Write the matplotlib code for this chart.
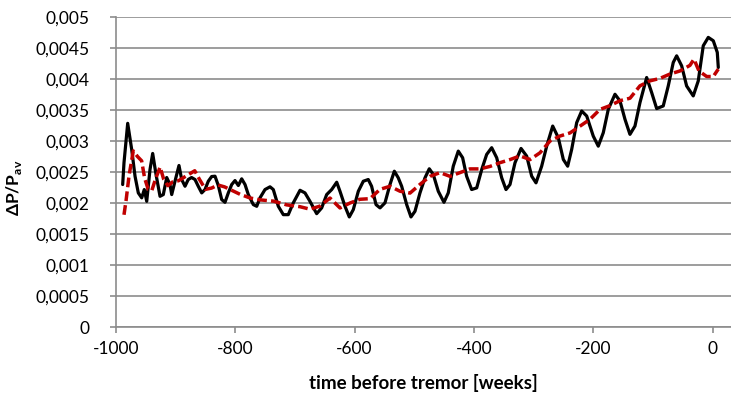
import matplotlib
matplotlib.use("Agg")
import matplotlib.pyplot as plt
from matplotlib.ticker import FixedLocator, FuncFormatter

plt.rcParams["font.family"] = ["Lato", "DejaVu Sans"]

# black curve (weeks, dP/Pav)
obs_t = [-988.8, -986.6, -980.4, -973.7, -968.1, -962.6, -956.9, -952.6, -948.5, -943.0,
         -938.5, -932.9, -926.2, -920.7, -915.0, -909.5, -906.6, -901.1, -894.4, -889.9,
         -884.3, -878.9, -873.3, -867.6, -862.1, -856.3, -850.8, -845.3, -839.6, -834.0,
         -828.5, -822.8, -817.3, -811.7, -806.0, -800.5, -794.9, -789.3, -783.7, -778.2,
         -769.8, -764.1, -758.6, -750.2, -741.8, -736.3, -727.9, -719.5, -711.2, -702.8,
         -691.5, -683.2, -674.8, -663.6, -655.2, -646.8, -638.4, -630.0, -624.5, -616.1,
         -608.9, -602.2, -593.8, -585.4, -577.1, -571.5, -564.1, -557.4, -549.1, -540.7,
         -533.4, -526.8, -521.1, -512.7, -505.5, -498.8, -490.4, -482.0, -474.8, -468.1,
         -459.7, -450.2, -443.0, -434.6, -426.2, -418.9, -412.2, -403.8, -395.3, -386.9,
         -378.6, -370.2, -361.8, -353.4, -346.2, -339.5, -331.1, -321.0, -311.5, -303.1,
         -295.9, -286.4, -278.0, -267.9, -258.5, -250.1, -242.8, -236.1, -227.7, -219.3,
         -210.9, -199.9, -191.5, -183.1, -174.7, -163.5, -155.1, -146.7, -138.4, -130.0,
         -121.6, -110.4, -102.0, -93.6, -82.6, -74.2, -65.8, -60.1, -51.7, -43.4,
         -32.3, -23.9, -15.5, -7.1, 1.3, 8.0, 9.7]
obs_v = [0.002298, 0.002649, 0.003285, 0.002864, 0.002432, 0.002163, 0.002083, 0.002217, 0.002027, 0.002540,
         0.002799, 0.002460, 0.002108, 0.002136, 0.002411, 0.002298, 0.002136, 0.002351, 0.002605, 0.002379,
         0.002270, 0.002379, 0.002411, 0.002379, 0.002270, 0.002163, 0.002217, 0.002351, 0.002427, 0.002432,
         0.002282, 0.002055, 0.002011, 0.002163, 0.002298, 0.002362, 0.002282, 0.002390, 0.002298, 0.002136,
         0.001974, 0.001947, 0.002083, 0.002217, 0.002261, 0.002217, 0.001947, 0.001812, 0.001812, 0.002002,
         0.002205, 0.002163, 0.002027, 0.001828, 0.001921, 0.002136, 0.002217, 0.002335, 0.002189, 0.001947,
         0.001775, 0.001893, 0.002189, 0.002351, 0.002379, 0.002270, 0.001974, 0.001921, 0.002002, 0.002298,
         0.002513, 0.002406, 0.002270, 0.001974, 0.001775, 0.001866, 0.002163, 0.002406, 0.002552, 0.002460,
         0.002189, 0.002011, 0.002163, 0.002594, 0.002837, 0.002730, 0.002432, 0.002217, 0.002244, 0.002540,
         0.002783, 0.002892, 0.002730, 0.002406, 0.002217, 0.002298, 0.002649, 0.002880, 0.002756, 0.002432,
         0.002325, 0.002594, 0.002917, 0.003241, 0.003053, 0.002702, 0.002594, 0.002864, 0.003296, 0.003484,
         0.003403, 0.003079, 0.002917, 0.003134, 0.003511, 0.003754, 0.003646, 0.003349, 0.003107, 0.003241,
         0.003620, 0.004024, 0.003781, 0.003523, 0.003565, 0.003888, 0.004267, 0.004374, 0.004212, 0.003888,
         0.003727, 0.003969, 0.004536, 0.004671, 0.004617, 0.004429, 0.004186]

# red dashed trend
trend_t = [-986.6, -983.0, -978.0, -971.0, -964.0, -957.0, -952.0, -946.0, -940.0, -934.0,
           -926.0, -920.0, -913.0, -905.0, -895.0, -880.0, -868.0, -860.0, -850.0, -840.0,
           -829.0, -818.0, -805.0, -792.0, -775.0, -758.0, -736.0, -714.0, -691.5, -674.8,
           -658.0, -641.3, -624.5, -607.7, -591.0, -574.2, -557.4, -540.7, -523.9, -507.1,
           -490.4, -473.6, -456.8, -440.1, -423.3, -406.6, -389.8, -373.0, -356.3, -339.5,
           -322.7, -306.0, -289.2, -272.4, -255.7, -238.9, -222.1, -205.4, -188.6, -171.9,
           -155.1, -138.3, -121.6, -104.8, -88.1, -71.3, -54.5, -37.8, -31.1, -22.7,
           -9.8, 1.3, 9.7]
trend_v = [0.00181, 0.00205, 0.00245, 0.00284, 0.00275, 0.00268, 0.00240, 0.00222, 0.00220, 0.00238,
           0.00258, 0.00238, 0.00228, 0.00234, 0.00236, 0.00245, 0.00252, 0.00238, 0.00222, 0.00224,
           0.00229, 0.00226, 0.00220, 0.00214, 0.00208, 0.00205, 0.00203, 0.00197, 0.00194, 0.00190,
           0.00195, 0.00208, 0.00192, 0.00200, 0.00206, 0.00207, 0.00222, 0.00227, 0.00219, 0.00216,
           0.00230, 0.00243, 0.00249, 0.00243, 0.00249, 0.00255, 0.00255, 0.00259, 0.00265, 0.00270,
           0.00276, 0.00270, 0.00281, 0.00300, 0.00308, 0.00313, 0.00324, 0.00335, 0.00351, 0.00357,
           0.00365, 0.00369, 0.00389, 0.00397, 0.00401, 0.00408, 0.00413, 0.00422, 0.00432, 0.00413,
           0.00404, 0.00404, 0.00416]

y_ticks = [0, 0.0005, 0.001, 0.0015, 0.002, 0.0025, 0.003, 0.0035, 0.004, 0.0045, 0.005]
x_ticks = [-1000, -800, -600, -400, -200, 0]

grey = "#8c8c8c"

fig = plt.figure(figsize=(7.31, 3.98), dpi=100)
ax = fig.add_axes([116 / 731, 1 - 327 / 398, 615 / 731, 310 / 398])

ax.plot(obs_t, obs_v, color="black", lw=2.3, solid_joinstyle="round",
        solid_capstyle="round", zorder=3)
ax.plot(trend_t, trend_v, color="#c00000", lw=2.5, dashes=(2.8, 1.2), zorder=4)

ax.set_xlim(-1000, 31)
ax.set_ylim(0, 0.005)
ax.xaxis.set_major_locator(FixedLocator(x_ticks))
ax.yaxis.set_major_locator(FixedLocator(y_ticks))
ax.yaxis.set_major_formatter(FuncFormatter(lambda v, p: f"{v:g}".replace(".", ",")))
ax.xaxis.set_major_formatter(FuncFormatter(lambda v, p: f"{v:g}"))

ax.grid(axis="y", color=grey, lw=1.2, zorder=0)
for s in ["top", "right"]:
    ax.spines[s].set_visible(False)
for s in ["left", "bottom"]:
    ax.spines[s].set_color(grey)
    ax.spines[s].set_linewidth(1.2)
ax.tick_params(axis="both", colors=grey, labelcolor="black", labelsize=12.5, length=4, width=1.2)
ax.tick_params(axis="y", pad=15)
ax.tick_params(axis="x", pad=6)

ax.set_xlabel("time before tremor [weeks]", fontsize=13.5, fontweight="bold", labelpad=12)
ax.set_ylabel("ΔP/P$_\\mathregular{av}$", fontsize=12.5, fontweight="bold")
ax.yaxis.set_label_coords(-0.15, 0.45)

fig.savefig("out.png", dpi=100)
